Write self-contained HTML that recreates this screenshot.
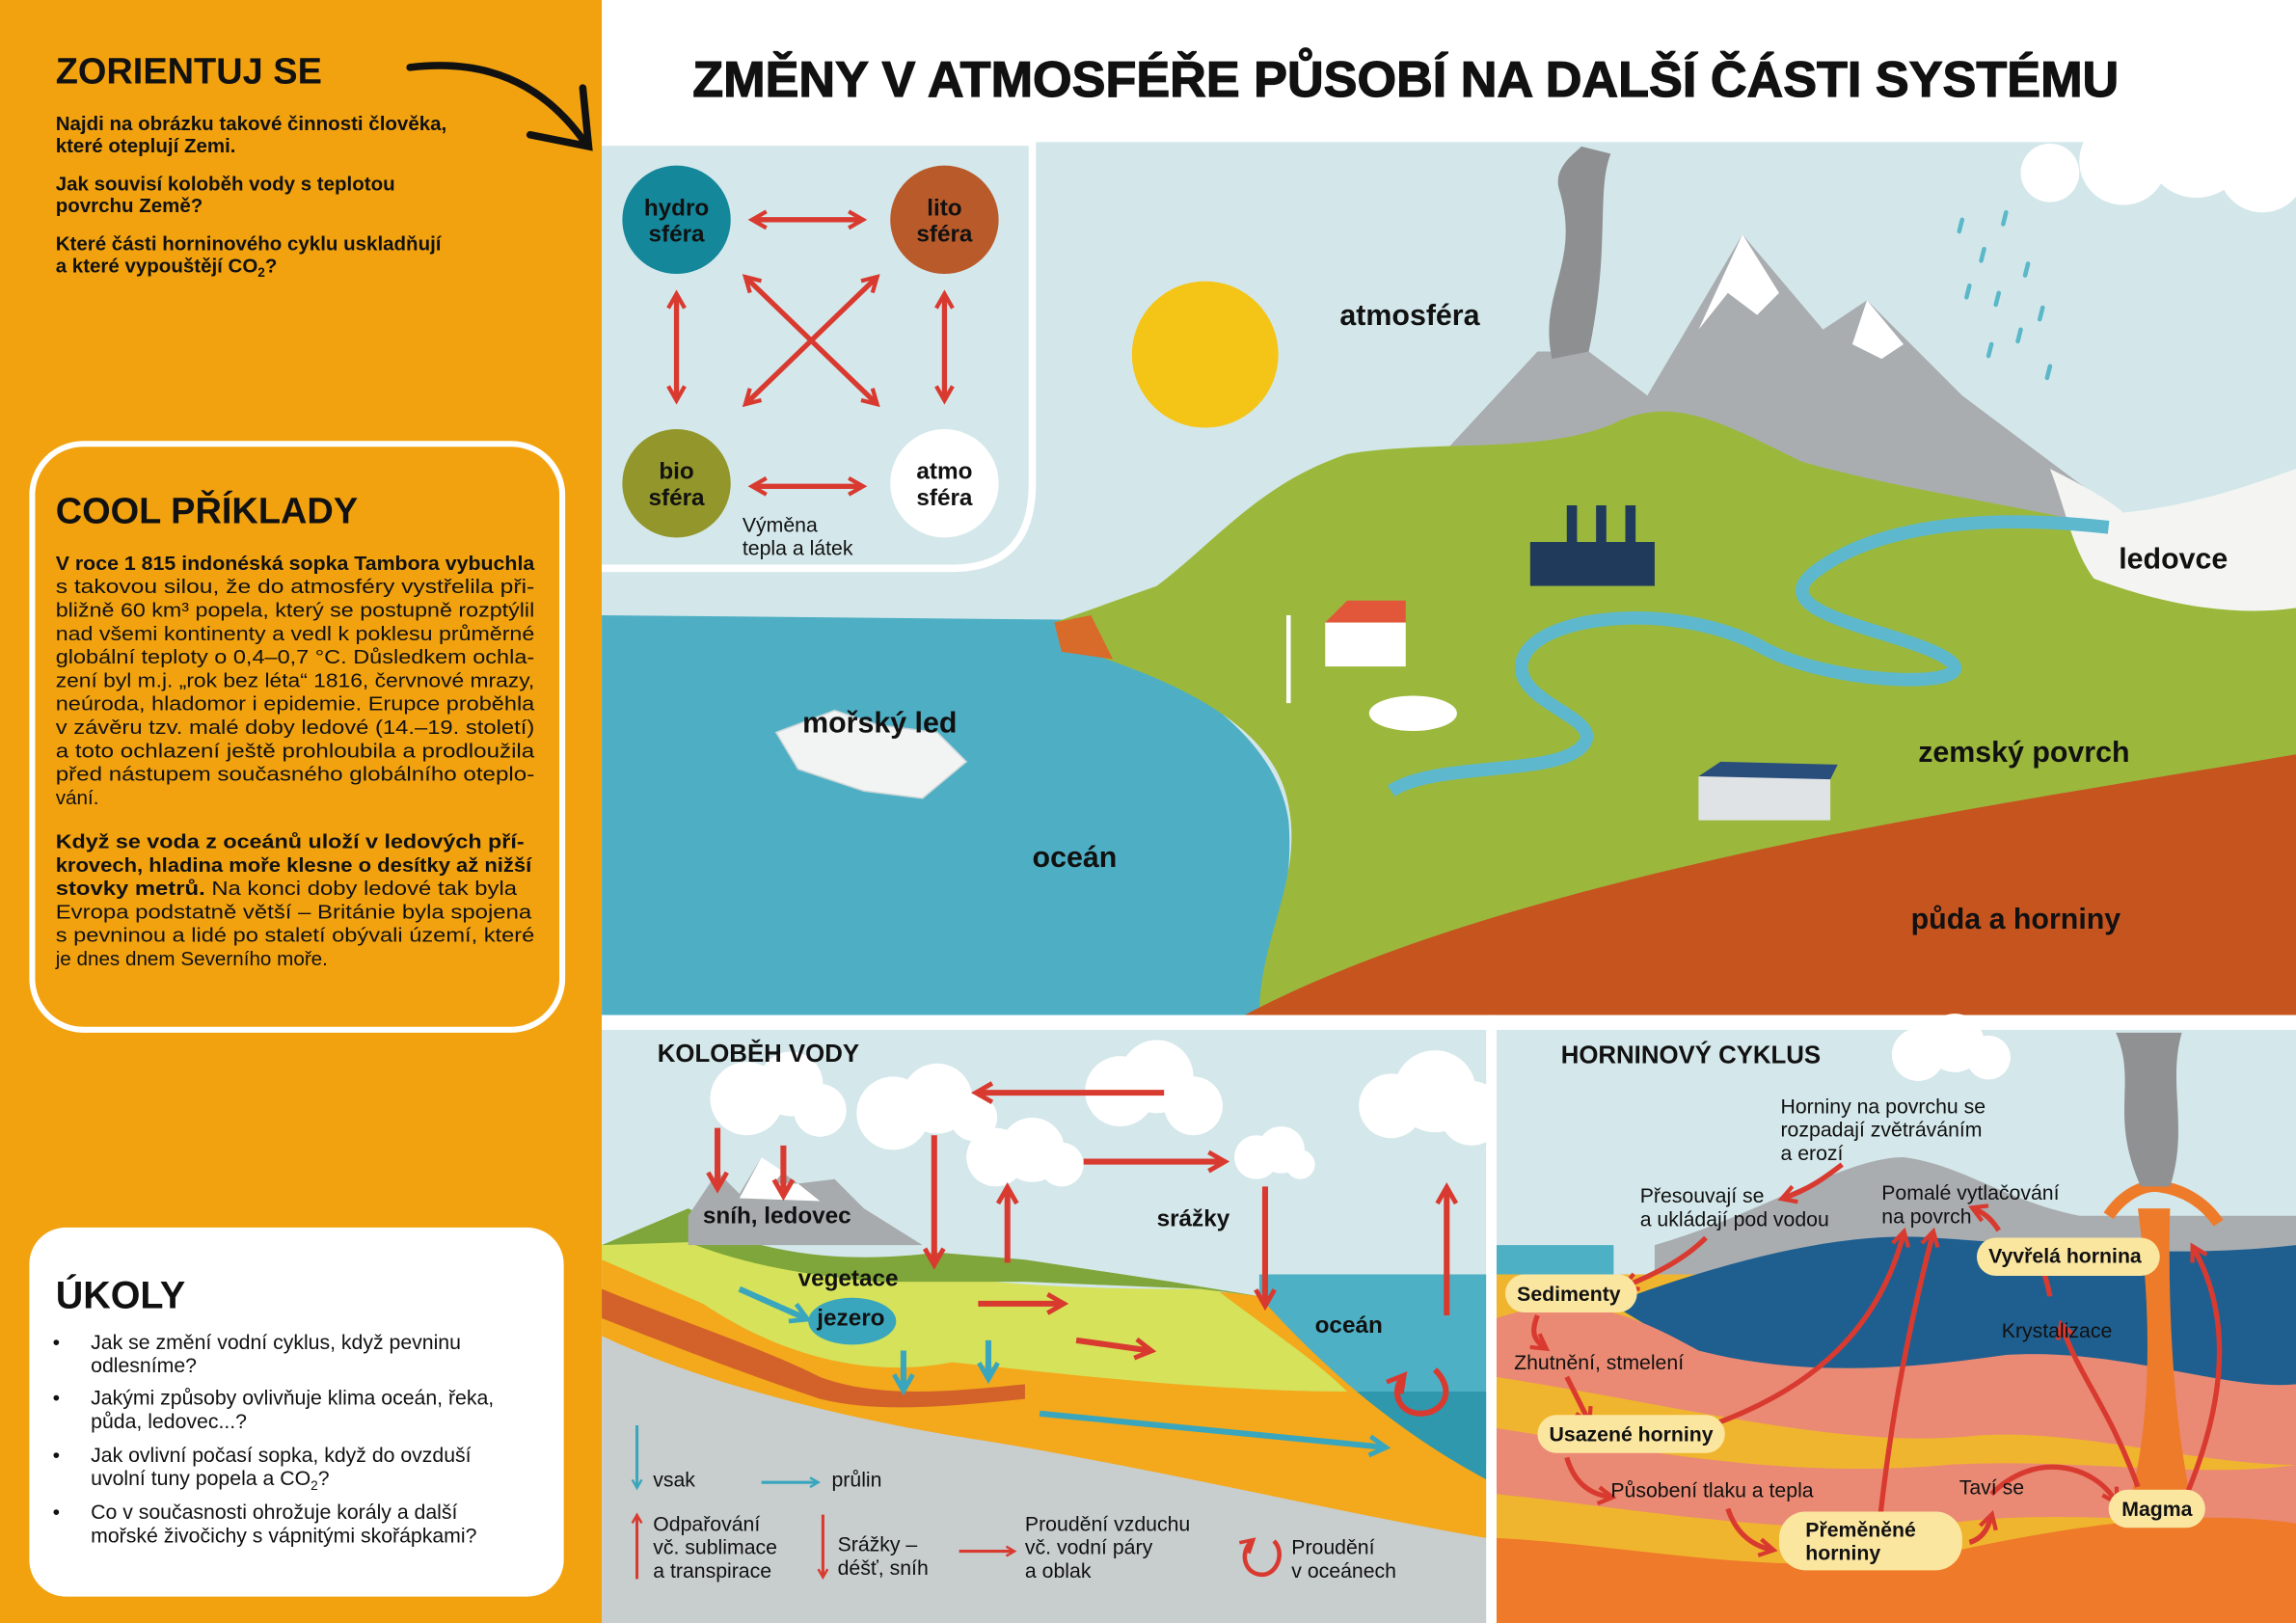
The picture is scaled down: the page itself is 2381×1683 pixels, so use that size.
<!DOCTYPE html>
<html><head><meta charset="utf-8">
<style>
html,body{margin:0;padding:0;background:#fff;}
svg{display:block;}
text{font-family:"Liberation Sans","DejaVu Sans",sans-serif;}
.h{font-weight:bold;}
</style></head>
<body>
<svg width="2381" height="1683" viewBox="0 0 1568 1108" preserveAspectRatio="none" xmlns="http://www.w3.org/2000/svg">
<defs>
<marker id="ar" viewBox="0 0 10 10" refX="7" refY="5" markerWidth="4" markerHeight="4" orient="auto-start-reverse"><path d="M1,1 L8,5 L1,9" fill="none" stroke="#d93a30" stroke-width="2"/></marker>
<marker id="ab" viewBox="0 0 10 10" refX="7" refY="5" markerWidth="4" markerHeight="4" orient="auto-start-reverse"><path d="M1,1 L8,5 L1,9" fill="none" stroke="#3aa6bd" stroke-width="2"/></marker>
</defs>
<rect width="1568" height="1108" fill="#fff"/>
<rect x="0" y="0" width="411" height="1108" fill="#f2a20f"/>
<text x="38" y="57" font-size="25" class="h" fill="#111">ZORIENTUJ SE</text>
<g font-size="13.5" class="h" fill="#111">
<text x="38" y="89">Najdi na obrázku takové činnosti člověka,</text>
<text x="38" y="104">které oteplují Zemi.</text>
<text x="38" y="130">Jak souvisí koloběh vody s teplotou</text>
<text x="38" y="145">povrchu Země?</text>
<text x="38" y="171">Které části horninového cyklu uskladňují</text>
<text x="38" y="186">a které vypouštějí CO<tspan font-size="9" dy="3">2</tspan><tspan dy="-3">?</tspan></text>
</g>
<path d="M280,46 C330,40 370,55 400,98" fill="none" stroke="#111" stroke-width="5" stroke-linecap="round"/>
<path d="M362,92 L402,100 L398,60" fill="none" stroke="#111" stroke-width="5" stroke-linecap="round"/>

<rect x="22" y="303" width="362" height="400" rx="35" fill="none" stroke="#fff" stroke-width="4"/>
<text x="38" y="357" font-size="25" class="h" fill="#111">COOL PŘÍKLADY</text>
<g font-size="13.6" fill="#111">
<text x="38" y="389" class="h" textLength="327" lengthAdjust="spacingAndGlyphs">V roce 1 815 indonéská sopka Tambora vybuchla</text>
<text x="38" y="405" textLength="327" lengthAdjust="spacingAndGlyphs">s takovou silou, že do atmosféry vystřelila při-</text>
<text x="38" y="421" textLength="327" lengthAdjust="spacingAndGlyphs">bližně 60 km³ popela, který se postupně rozptýlil</text>
<text x="38" y="437" textLength="327" lengthAdjust="spacingAndGlyphs">nad všemi kontinenty a vedl k poklesu průměrné</text>
<text x="38" y="453" textLength="327" lengthAdjust="spacingAndGlyphs">globální teploty o 0,4–0,7 °C. Důsledkem ochla-</text>
<text x="38" y="469" textLength="327" lengthAdjust="spacingAndGlyphs">zení byl m.j. „rok bez léta“ 1816, červnové mrazy,</text>
<text x="38" y="485" textLength="327" lengthAdjust="spacingAndGlyphs">neúroda, hladomor i epidemie. Erupce proběhla</text>
<text x="38" y="501" textLength="327" lengthAdjust="spacingAndGlyphs">v závěru tzv. malé doby ledové (14.–19. století)</text>
<text x="38" y="517" textLength="327" lengthAdjust="spacingAndGlyphs">a toto ochlazení ještě prohloubila a prodloužila</text>
<text x="38" y="533" textLength="327" lengthAdjust="spacingAndGlyphs">před nástupem současného globálního oteplo-</text>
<text x="38" y="549">vání.</text>
<text x="38" y="579" class="h" textLength="320" lengthAdjust="spacingAndGlyphs">Když se voda z oceánů uloží v ledových pří-</text>
<text x="38" y="595" class="h" textLength="325" lengthAdjust="spacingAndGlyphs">krovech, hladina moře klesne o desítky až nižší</text>
<text x="38" y="611" textLength="315" lengthAdjust="spacingAndGlyphs"><tspan class="h">stovky metrů.</tspan> Na konci doby ledové tak byla</text>
<text x="38" y="627" textLength="325" lengthAdjust="spacingAndGlyphs">Evropa podstatně větší – Británie byla spojena</text>
<text x="38" y="643" textLength="327" lengthAdjust="spacingAndGlyphs">s pevninou a lidé po staletí obývali území, které</text>
<text x="38" y="659">je dnes dnem Severního moře.</text>
</g>

<rect x="20" y="838" width="365" height="252" rx="25" fill="#fff"/>
<text x="38" y="893" font-size="26" class="h" fill="#111">ÚKOLY</text>
<g font-size="14" fill="#111">
<text x="36" y="921">•</text><text x="62" y="921">Jak se změní vodní cyklus, když pevninu</text><text x="62" y="937">odlesníme?</text>
<text x="36" y="959">•</text><text x="62" y="959">Jakými způsoby ovlivňuje klima oceán, řeka,</text><text x="62" y="975">půda, ledovec...?</text>
<text x="36" y="998">•</text><text x="62" y="998">Jak ovlivní počasí sopka, když do ovzduší</text><text x="62" y="1014">uvolní tuny popela a CO<tspan font-size="9" dy="3">2</tspan><tspan dy="-3">?</tspan></text>
<text x="36" y="1037">•</text><text x="62" y="1037">Co v současnosti ohrožuje korály a další</text><text x="62" y="1053">mořské živočichy s vápnitými skořápkami?</text>
</g>

<text x="473" y="66" font-size="34" class="h" fill="#111" stroke="#111" stroke-width="0.8" textLength="974" lengthAdjust="spacingAndGlyphs">ZMĚNY V ATMOSFÉŘE PŮSOBÍ  NA DALŠÍ ČÁSTI SYSTÉMU</text>

<rect x="411" y="97" width="1157" height="596" fill="#d3e7ea"/>
<g fill="#fff"><circle cx="1450" cy="110" r="30"/><circle cx="1500" cy="100" r="35"/><circle cx="1545" cy="115" r="30"/><circle cx="1400" cy="118" r="20"/></g>
<polygon points="985,310 1050,240 1085,240 1125,270 1190,160 1245,225 1275,205 1340,270 1420,330 1450,350 1420,360 1300,340 1150,320 1000,320" fill="#a9adb0"/>
<polygon points="1190,160 1215,200 1200,215 1180,200 1160,225" fill="#fff"/>
<polygon points="1275,205 1300,235 1285,245 1265,235" fill="#fff"/>
<path d="M1060,245 C1050,200 1080,180 1065,130 C1060,115 1075,105 1080,100 L1100,105 C1090,130 1100,170 1085,240 Z" fill="#8d8f91"/>
<g stroke="#5bb8c9" stroke-width="3" stroke-linecap="round">
<line x1="1340" y1="150" x2="1338" y2="158"/><line x1="1355" y1="170" x2="1353" y2="178"/><line x1="1370" y1="145" x2="1368" y2="153"/><line x1="1365" y1="200" x2="1363" y2="208"/><line x1="1385" y1="180" x2="1383" y2="188"/><line x1="1380" y1="225" x2="1378" y2="233"/><line x1="1395" y1="210" x2="1393" y2="218"/><line x1="1400" y1="250" x2="1398" y2="258"/><line x1="1345" y1="195" x2="1343" y2="203"/><line x1="1360" y1="235" x2="1358" y2="243"/>
</g>
<circle cx="823" cy="242" r="50" fill="#f4c417"/>
<path d="M411,420 L725,423 C780,450 870,490 880,560 C885,620 860,660 860,693 L411,693 Z" fill="#4eafc4"/>
<path d="M720,425 L790,400 C830,370 860,330 920,310 C980,300 1050,310 1100,290 C1140,270 1170,285 1230,315 C1300,335 1380,345 1440,360 L1568,350 L1568,693 L860,693 C860,640 890,600 880,550 C870,490 790,460 725,440 Z" fill="#9bb83c"/>
<path d="M720,425 L745,420 L760,450 L725,445 Z" fill="#d86a2a"/>
<path d="M1400,320 C1430,335 1445,345 1450,350 C1500,345 1540,330 1568,320 L1568,415 C1520,422 1470,410 1430,395 C1415,375 1410,345 1400,320 Z" fill="#f4f5f3"/>
<path d="M850,693 C950,640 1100,600 1250,570 C1380,545 1480,530 1568,515 L1568,693 Z" fill="#c6541f"/>
<path d="M1440,360 C1350,350 1280,360 1240,390 C1200,420 1300,430 1330,450 C1360,470 1250,470 1200,440 C1140,410 1050,420 1040,450 C1030,480 1100,490 1080,510 C1060,530 980,520 950,540" fill="none" stroke="#5db8cd" stroke-width="9"/>
<polygon points="530,500 570,485 600,495 640,500 660,520 630,545 590,540 545,525" fill="#f2f4f3" stroke="#c9d5d8"/>
<rect x="1045" y="370" width="85" height="30" fill="#1f3a5a"/>
<rect x="1070" y="345" width="7" height="30" fill="#1f3a5a"/><rect x="1090" y="345" width="7" height="30" fill="#1f3a5a"/><rect x="1110" y="345" width="7" height="30" fill="#1f3a5a"/>
<rect x="905" y="425" width="55" height="30" fill="#fff"/><polygon points="905,425 920,410 960,410 960,425" fill="#e2573a"/>
<rect x="1160" y="530" width="90" height="30" fill="#dfe3e6"/><polygon points="1160,530 1175,520 1255,522 1250,532" fill="#2a4e7b"/>
<line x1="880" y1="420" x2="880" y2="480" stroke="#fff" stroke-width="3"/>
<ellipse cx="965" cy="487" rx="30" ry="12" fill="#fff"/>
<g fill="#111" font-size="20" class="h">
<text x="915" y="222">atmosféra</text>
<text x="548" y="500">mořský led</text>
<text x="705" y="592">oceán</text>
<text x="1447" y="388">ledovce</text>
<text x="1310" y="520">zemský povrch</text>
<text x="1305" y="634">půda a horniny</text>
</g>
<path d="M411,97 L705,97 L705,330 C705,365 690,388 650,388 L411,388" fill="#d4e8eb" stroke="#fff" stroke-width="5"/>
<circle cx="462" cy="150" r="37" fill="#14879b"/>
<circle cx="645" cy="150" r="37" fill="#b95a2b"/>
<circle cx="462" cy="330" r="37" fill="#93972b"/>
<circle cx="645" cy="330" r="37" fill="#fff"/>
<g font-size="16" class="h" fill="#111" text-anchor="middle">
<text x="462" y="147">hydro</text><text x="462" y="165">sféra</text>
<text x="645" y="147">lito</text><text x="645" y="165">sféra</text>
<text x="462" y="327">bio</text><text x="462" y="345">sféra</text>
<text x="645" y="327">atmo</text><text x="645" y="345">sféra</text>
</g>
<g stroke="#d93a30" stroke-width="3.5" fill="none" marker-start="url(#ar)" marker-end="url(#ar)">
<line x1="515" y1="150" x2="588" y2="150"/>
<line x1="515" y1="332" x2="588" y2="332"/>
<line x1="462" y1="202" x2="462" y2="272"/>
<line x1="645" y1="202" x2="645" y2="272"/>
<line x1="510" y1="190" x2="598" y2="275"/>
<line x1="598" y1="190" x2="510" y2="275"/>
</g>
<text x="507" y="363" font-size="14" fill="#111">Výměna</text>
<text x="507" y="379" font-size="14" fill="#111">tepla a látek</text>

<rect x="411" y="703" width="604" height="405" fill="#d4e7ea"/>
<rect x="860" y="870" width="155" height="130" fill="#4eb0c5"/>
<rect x="860" y="950" width="155" height="60" fill="#2f98ad"/>
<path d="M411,850 L470,830 C520,860 600,880 700,880 C780,880 830,880 860,885 C900,930 950,975 1015,1010 L1015,1050 C900,1035 700,1000 600,980 C520,960 450,935 411,915 Z" fill="#f4a81b"/>
<path d="M470,830 C520,860 580,880 640,870 C700,880 780,880 830,880 C870,910 900,930 920,950 C820,950 700,935 650,930 C600,940 540,930 480,890 L411,860 L411,850 Z" fill="#d5e25a"/>
<path d="M411,850 L470,825 L520,850 C560,860 600,860 640,855 L700,860 L800,875 L860,885 L820,880 L700,875 L600,875 C540,870 500,860 470,848 Z" fill="#7fa63a"/>
<path d="M411,880 C460,900 520,920 560,940 C600,955 650,950 700,945 L700,955 C650,960 600,965 560,955 C500,935 450,915 411,900 Z" fill="#d2622a"/>
<path d="M411,912 C470,940 560,965 650,980 C780,1000 900,1030 1015,1050 L1015,1108 L411,1108 Z" fill="#c8cdcd"/>
<polygon points="470,830 490,800 505,815 520,790 545,808 570,805 590,825 630,850 470,850" fill="#a7abad"/>
<polygon points="520,790 535,800 528,808 545,808 560,820 505,818" fill="#fff"/>
<ellipse cx="582" cy="902" rx="30" ry="16" fill="#3aa6bd"/>
<g fill="#fff">
<circle cx="510" cy="750" r="25"/><circle cx="540" cy="740" r="22"/><circle cx="560" cy="758" r="18"/>
<circle cx="610" cy="760" r="25"/><circle cx="640" cy="750" r="24"/><circle cx="665" cy="763" r="16"/>
<circle cx="765" cy="745" r="24"/><circle cx="790" cy="735" r="25"/><circle cx="815" cy="755" r="20"/>
<circle cx="680" cy="790" r="20"/><circle cx="705" cy="785" r="22"/><circle cx="725" cy="795" r="15"/>
<circle cx="950" cy="755" r="22"/><circle cx="980" cy="745" r="28"/><circle cx="1005" cy="760" r="22"/>
<circle cx="858" cy="790" r="15"/><circle cx="875" cy="785" r="16"/><circle cx="888" cy="795" r="10"/>
</g>
<g stroke="#d93a30" stroke-width="4" fill="none" marker-end="url(#ar)">
<line x1="490" y1="810" x2="490" y2="770" marker-start="url(#ar)" marker-end="none"/>
<line x1="535" y1="782" x2="535" y2="815"/>
<line x1="638" y1="775" x2="638" y2="862"/>
<line x1="688" y1="862" x2="688" y2="812"/>
<line x1="795" y1="746" x2="668" y2="746"/>
<line x1="740" y1="793" x2="835" y2="793"/>
<line x1="864" y1="810" x2="864" y2="890"/>
<line x1="988" y1="898" x2="988" y2="812"/>
<line x1="668" y1="890" x2="725" y2="890"/>
<line x1="735" y1="915" x2="785" y2="922"/>
<path d="M980,935 C995,950 985,965 970,965 C955,965 950,950 958,940"/>
</g>
<g stroke="#3aa6bd" stroke-width="4" fill="none" marker-end="url(#ab)">
<line x1="505" y1="880" x2="550" y2="900"/>
<line x1="710" y1="965" x2="945" y2="988"/>
<line x1="617" y1="922" x2="617" y2="948"/>
<line x1="675" y1="915" x2="675" y2="940"/>
</g>
<g font-size="16" class="h" fill="#111">
<text x="449" y="725" font-size="17">KOLOBĚH VODY</text>
<text x="480" y="835">sníh, ledovec</text>
<text x="545" y="878">vegetace</text>
<text x="558" y="905">jezero</text>
<text x="790" y="837">srážky</text>
<text x="898" y="910">oceán</text>
</g>
<g stroke-width="2" fill="none">
<line x1="435" y1="973" x2="435" y2="1015" stroke="#3aa6bd" marker-end="url(#ab)"/>
<line x1="520" y1="1012" x2="558" y2="1012" stroke="#3aa6bd" marker-end="url(#ab)"/>
<line x1="435" y1="1078" x2="435" y2="1035" stroke="#d93a30" marker-end="url(#ar)"/>
<line x1="562" y1="1034" x2="562" y2="1076" stroke="#d93a30" marker-end="url(#ar)"/>
<line x1="655" y1="1059" x2="692" y2="1059" stroke="#d93a30" marker-end="url(#ar)"/>
<path d="M870,1052 C878,1060 872,1075 862,1075 C850,1075 846,1060 855,1052" stroke="#d93a30" stroke-width="3" marker-end="url(#ar)"/>
</g>
<g font-size="14" fill="#111">
<text x="446" y="1015">vsak</text><text x="568" y="1015">průlin</text>
<text x="446" y="1045">Odpařování</text><text x="446" y="1061">vč. sublimace</text><text x="446" y="1077">a transpirace</text>
<text x="572" y="1059">Srážky –</text><text x="572" y="1075">déšť, sníh</text>
<text x="700" y="1045">Proudění vzduchu</text><text x="700" y="1061">vč. vodní páry</text><text x="700" y="1077">a oblak</text>
<text x="882" y="1061">Proudění</text><text x="882" y="1077">v oceánech</text>
</g>

<rect x="1022" y="703" width="546" height="405" fill="#d4e7ea"/>
<rect x="1022" y="850" width="80" height="40" fill="#4eb0c5"/>
<path d="M1130,850 C1200,830 1260,790 1300,790 C1340,795 1370,820 1420,830 L1568,830 L1568,900 L1130,900 Z" fill="#a9adb0"/>
<path d="M1022,870 L1568,870 L1568,1108 L1022,1108 Z" fill="#f0b52e"/>
<path d="M1100,890 C1180,860 1260,840 1320,845 C1400,850 1480,860 1568,850 L1568,950 C1500,960 1420,925 1320,935 C1250,945 1190,930 1150,920 Z" fill="#1f5f8f"/>
<path d="M1022,900 C1080,880 1120,900 1160,922 C1230,940 1300,935 1370,925 C1450,920 1520,950 1568,945 L1568,1000 C1500,1000 1420,975 1350,980 C1260,990 1150,960 1022,940 Z" fill="#ea8a74"/>
<path d="M1022,975 C1120,990 1220,1010 1330,1000 C1420,995 1500,1010 1568,1000 L1568,1040 C1480,1040 1400,1030 1330,1040 C1220,1050 1120,1030 1022,1020 Z" fill="#ea8a74"/>
<path d="M1022,1050 C1120,1055 1220,1080 1330,1060 C1420,1040 1500,1030 1568,1040 L1568,1108 L1022,1108 Z" fill="#ef7a2a"/>
<path d="M1460,825 C1470,900 1470,980 1450,1040 L1500,1040 C1485,980 1480,900 1482,825 Z" fill="#ee7b2a"/>
<path d="M1440,830 C1450,815 1465,808 1475,810 C1490,812 1505,820 1515,835" fill="none" stroke="#ee7b2a" stroke-width="8"/>
<path d="M1462,810 C1440,760 1460,740 1445,705 L1490,705 C1480,740 1495,770 1482,810 Z" fill="#8f9193"/>
<g fill="#fff"><circle cx="1310" cy="720" r="18"/><circle cx="1335" cy="712" r="20"/><circle cx="1358" cy="722" r="15"/></g>
<g stroke="#d93a30" stroke-width="3.5" fill="none" marker-end="url(#ar)">
<path d="M1258,795 C1245,805 1235,812 1218,818"/>
<path d="M1165,845 C1150,860 1130,870 1110,878"/>
<path d="M1050,898 C1045,910 1048,915 1055,920"/>
<path d="M1070,940 C1075,950 1080,960 1085,970"/>
<path d="M1070,995 C1075,1012 1085,1020 1100,1022"/>
<path d="M1180,1030 C1185,1045 1195,1055 1210,1058"/>
<path d="M1140,982 C1220,960 1280,920 1300,842"/>
<path d="M1283,1045 C1290,980 1300,920 1320,842"/>
<path d="M1345,1053 C1355,1050 1358,1042 1360,1035"/>
<path d="M1360,1020 C1390,990 1430,1000 1445,1025"/>
<path d="M1460,1015 C1440,960 1420,940 1408,905"/>
<path d="M1400,885 C1398,875 1396,868 1392,860"/>
<path d="M1365,840 C1360,832 1355,828 1348,825"/>
<path d="M1490,1028 C1520,960 1525,900 1498,852"/>
</g>
<g fill="#fbe6a0">
<rect x="1028" y="870" width="90" height="26" rx="13"/>
<rect x="1050" y="966" width="128" height="26" rx="13"/>
<rect x="1215" y="1032" width="125" height="40" rx="18"/>
<rect x="1440" y="1017" width="66" height="26" rx="13"/>
<rect x="1350" y="845" width="125" height="26" rx="13"/>
</g>
<g font-size="14" fill="#111">
<text x="1066" y="726" font-size="17" class="h">HORNINOVÝ CYKLUS</text>
<text x="1216" y="760">Horniny na povrchu se</text><text x="1216" y="776">rozpadají zvětráváním</text><text x="1216" y="792">a erozí</text>
<text x="1120" y="821">Přesouvají se</text><text x="1120" y="837">a ukládají pod vodou</text>
<text x="1285" y="819">Pomalé vytlačování</text><text x="1285" y="835">na povrch</text>
<text x="1034" y="935">Zhutnění, stmelení</text>
<text x="1100" y="1022">Působení tlaku a tepla</text>
<text x="1338" y="1020">Taví se</text>
<text x="1367" y="913">Krystalizace</text>
</g>
<g font-size="14" class="h" fill="#111">
<text x="1036" y="888">Sedimenty</text>
<text x="1058" y="984">Usazené horniny</text>
<text x="1233" y="1049">Přeměněné</text><text x="1233" y="1065">horniny</text>
<text x="1449" y="1035">Magma</text>
<text x="1358" y="862">Vyvřelá hornina</text>
</g>
<rect x="411" y="693" width="1157" height="10" fill="#fff"/>
<rect x="1015" y="693" width="7" height="415" fill="#fff"/>
</svg>
</body></html>
